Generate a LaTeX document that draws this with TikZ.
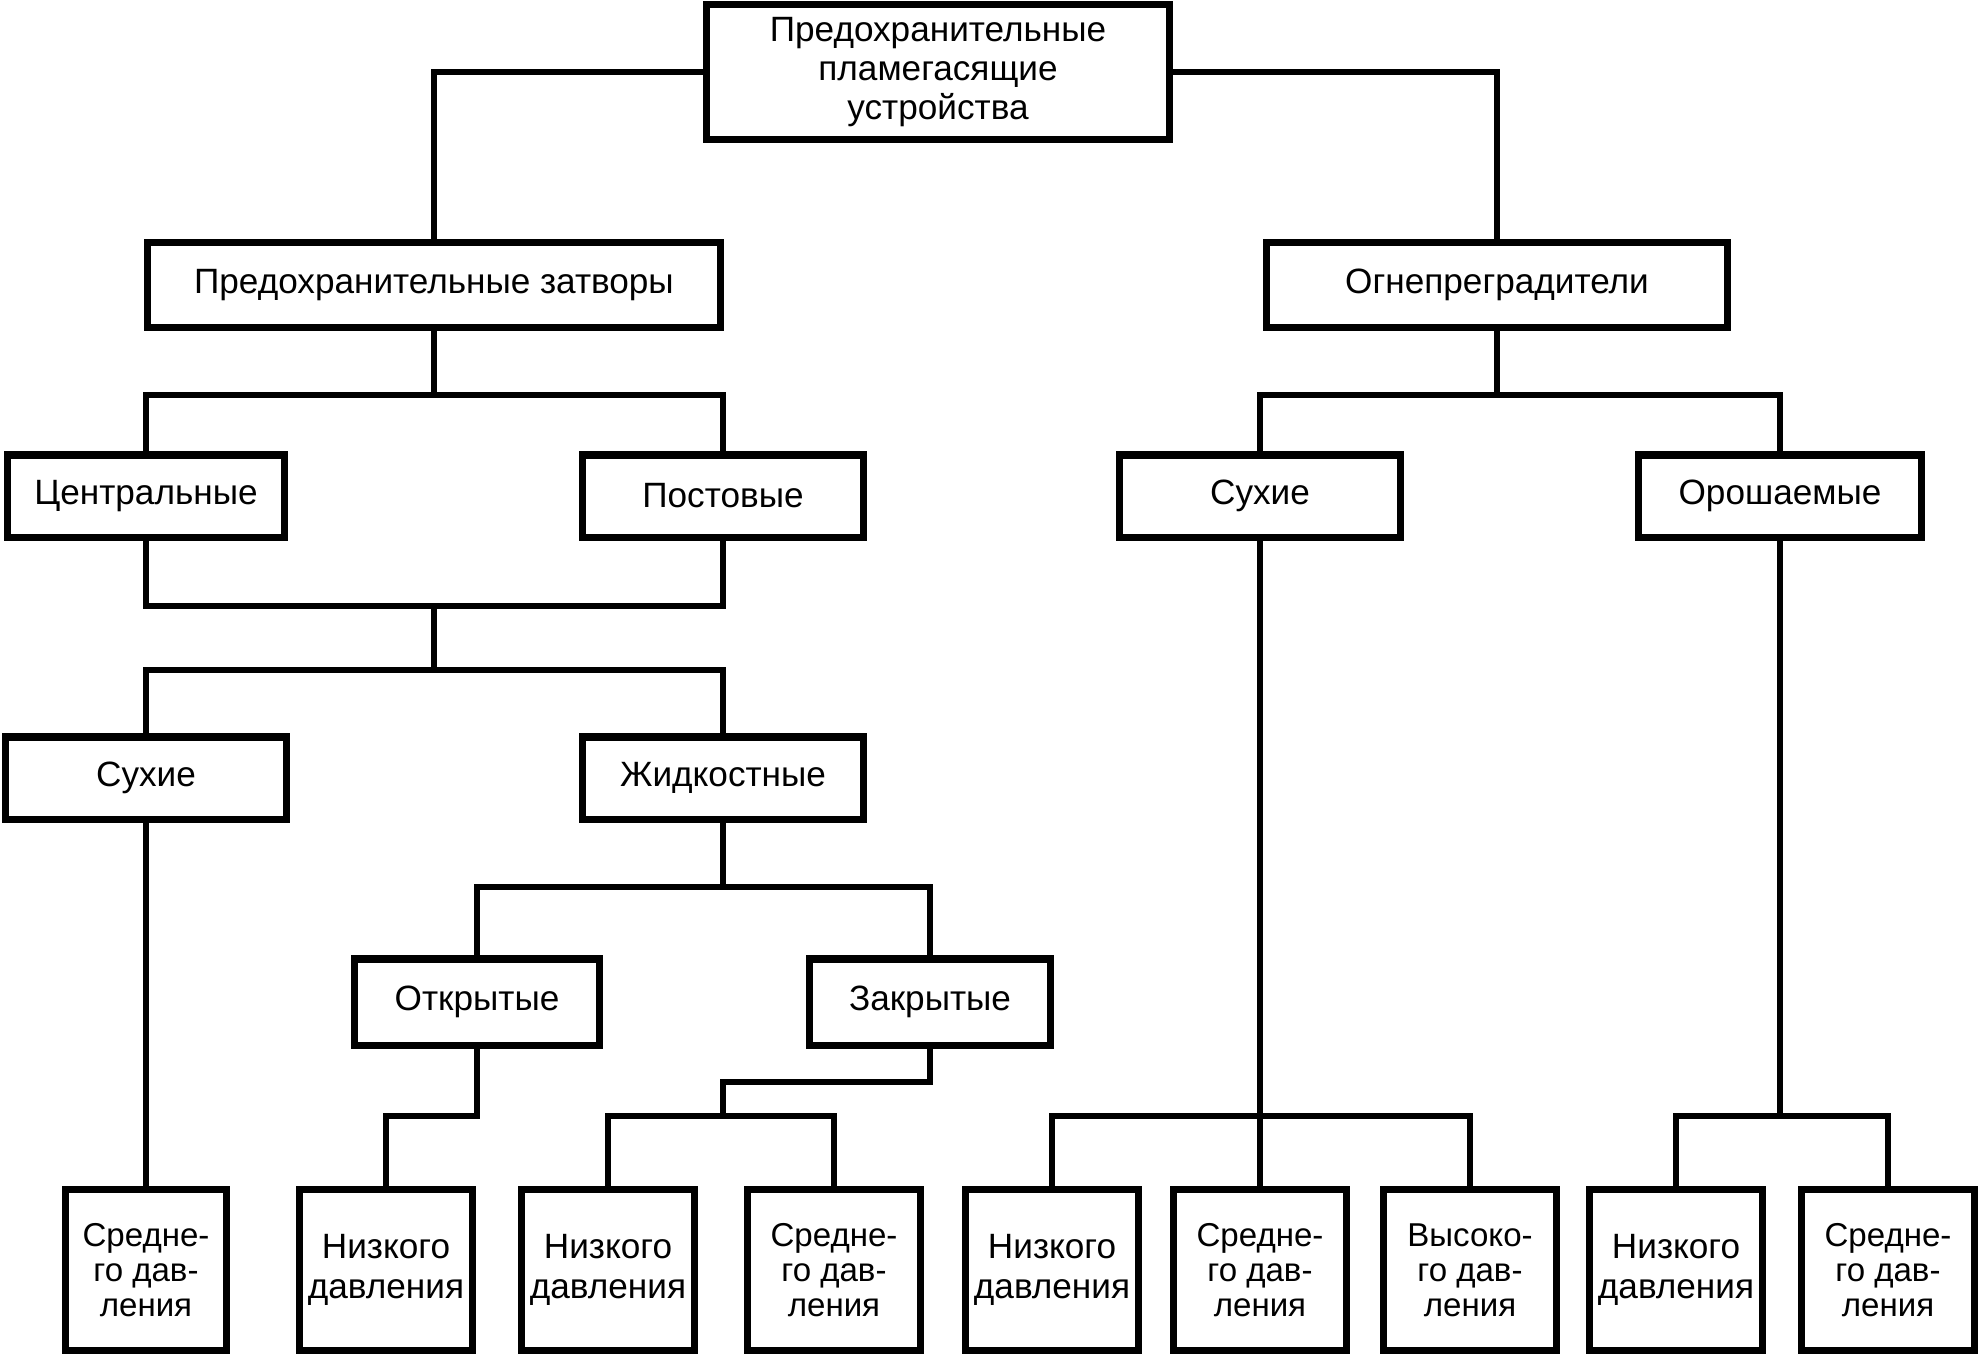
\documentclass[tikz,border=0pt]{standalone}
\usepackage{fontspec}
\setmainfont{Liberation Sans}
\tikzset{
  box/.style={draw, line width=2pt, inner sep=0pt, align=center,
    font=\fontsize{10}{11.2}\selectfont},
  midbox/.style={box, minimum width=2.8cm, minimum height=0.82cm},
  lowbox/.style={box, minimum width=1.72cm, minimum height=1.61cm},
  tribox/.style={lowbox, font=\fontsize{9.4}{9.9}\selectfont},
  link/.style={line width=1.5pt}
}
\begin{document}
\begin{tikzpicture}[x=0.01cm,y=-0.01cm]
  \useasboundingbox (0,0) rectangle (1982,1357);

  \node[box, minimum width=4.62cm, minimum height=1.34cm] (top) at (938,72)
    {Предохранительные\\пламегасящие\\устройства};
  \node[box, minimum width=5.72cm, minimum height=0.85cm] (zatv) at (434,285)
    {Предохранительные затворы};
  \node[box, minimum width=4.61cm, minimum height=0.85cm] (ogn) at (1497,285)
    {Огнепреградители};

  \node[midbox, minimum width=2.77cm] (centr) at (146,496) {Центральные};
  \node[midbox] (post) at (723,496) {Постовые};
  \node[midbox] (suhR) at (1260,496) {Сухие};
  \node[midbox, minimum width=2.82cm] (orosh) at (1780,496) {Орошаемые};

  \node[midbox] (suhL) at (146,778) {Сухие};
  \node[midbox] (zhid) at (723,778) {Жидкостные};

  \node[box, minimum width=2.44cm, minimum height=0.86cm] (otkr) at (477,1002) {Открытые};
  \node[box, minimum width=2.40cm, minimum height=0.86cm] (zakr) at (930,1002) {Закрытые};

  \node[tribox, minimum width=1.61cm] (s1) at (146,1270) {Средне-\\го дав-\\ления};
  \node[lowbox] (n1) at (386,1270) {Низкого\\давления};
  \node[lowbox] (n2) at (608,1270) {Низкого\\давления};
  \node[tribox] (s2) at (834,1270) {Средне-\\го дав-\\ления};
  \node[lowbox] (n3) at (1052,1270) {Низкого\\давления};
  \node[tribox] (s3) at (1260,1270) {Средне-\\го дав-\\ления};
  \node[tribox] (v) at (1470,1270) {Высоко-\\го дав-\\ления};
  \node[lowbox] (n4) at (1676,1270) {Низкого\\давления};
  \node[tribox] (s4) at (1888,1270) {Средне-\\го дав-\\ления};

  % junctions
  \coordinate (b1) at (434,395);
  \coordinate (b2) at (1497,395);
  \coordinate (m1) at (434,606);
  \coordinate (m2) at (434,670);
  \coordinate (b3) at (723,887);
  \coordinate (k1) at (477,1116);
  \coordinate (k2) at (723,1082);
  \coordinate (k3) at (723,1116);
  \coordinate (k4) at (1260,1116);
  \coordinate (k5) at (1780,1116);

  \draw[link] (top.west) -| (zatv.north);
  \draw[link] (top.east) -| (ogn.north);

  \draw[link] (zatv.south) -- (b1);
  \draw[link] (centr.north) |- (b1) -| (post.north);
  \draw[link] (centr.south) |- (m1) -| (post.south);
  \draw[link] (m1) -- (m2);
  \draw[link] (suhL.north) |- (m2) -| (zhid.north);
  \draw[link] (suhL.south) -- (s1.north);

  \draw[link] (zhid.south) -- (b3);
  \draw[link] (otkr.north) |- (b3) -| (zakr.north);
  \draw[link] (otkr.south) -- (k1) -| (n1.north);
  \draw[link] (zakr.south) |- (k2) -- (k3);
  \draw[link] (n2.north) |- (k3) -| (s2.north);

  \draw[link] (ogn.south) -- (b2);
  \draw[link] (suhR.north) |- (b2) -| (orosh.north);
  \draw[link] (suhR.south) -- (s3.north);
  \draw[link] (n3.north) |- (k4) -| (v.north);
  \draw[link] (orosh.south) -- (k5);
  \draw[link] (n4.north) |- (k5) -| (s4.north);
\end{tikzpicture}
\end{document}
